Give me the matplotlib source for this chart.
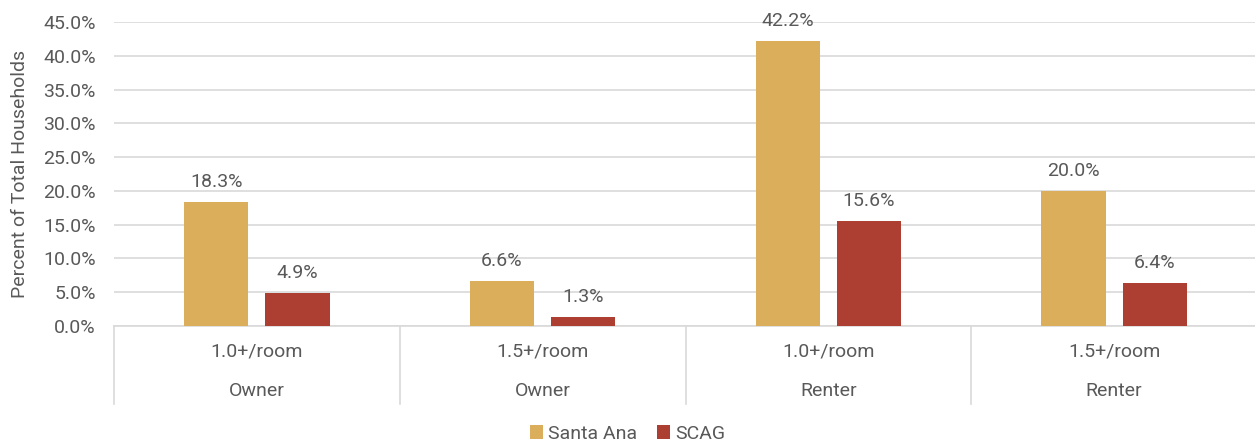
import matplotlib
matplotlib.use("Agg")
import matplotlib.pyplot as plt
import matplotlib.transforms as mtransforms
from matplotlib.patches import Patch
import numpy as np

sub_labels = ["1.0+/room", "1.5+/room", "1.0+/room", "1.5+/room"]
group_labels = ["Owner", "Owner", "Renter", "Renter"]
santa_ana = [18.3, 6.6, 42.2, 20.0]
scag = [4.9, 1.3, 15.6, 6.4]
series_names = ["Santa Ana", "SCAG"]
colors = ["#DAAE5A", "#AD3E32"]

plt.rcParams['font.family'] = ['Roboto', 'DejaVu Sans']
txt = "#595959"
fs = 14

W, H = 1255, 447
fig = plt.figure(figsize=(W / 100, H / 100), dpi=100)
left, right = 114 / W, 1257 / W
bottom, top = 1 - 326 / H, 1 - 22 / H
ax = fig.add_axes([left, bottom, right - left, top - bottom])

x = np.arange(len(sub_labels))
bw = 0.225
off = 0.142
b1 = ax.bar(x - off, santa_ana, bw, color=colors[0], zorder=3)
b2 = ax.bar(x + off, scag, bw, color=colors[1], zorder=3)
for bars, vals in ((b1, santa_ana), (b2, scag)):
    for r, v in zip(bars, vals):
        ax.annotate(f"{v:.1f}%", (r.get_x() + r.get_width() / 2, v),
                    xytext=(0, 8), textcoords="offset points",
                    ha="center", va="bottom", fontsize=fs, color=txt)

ax.set_xlim(-0.5, 3.5)
ax.set_ylim(0, 45)
ax.set_yticks(np.arange(0, 46, 5))
ax.set_yticklabels([f"{t:.1f}%" for t in np.arange(0, 46, 5)], fontsize=fs, color=txt)
ax.tick_params(axis="y", length=0, pad=13)
ax.grid(axis="y", color="#D9D9D9", linewidth=1.2, zorder=0)
ax.set_xticks([])
for s in ["top", "right", "left"]:
    ax.spines[s].set_visible(False)
ax.spines["bottom"].set_color("#D9D9D9")
ax.spines["bottom"].set_linewidth(1.2)
ax.set_ylabel("Percent of Total Households", fontsize=fs, color=txt, labelpad=10)

trans = mtransforms.blended_transform_factory(ax.transData, ax.transAxes)
axh = 326 - 22
for xs in np.arange(-0.5, 3.0, 1.0):
    ax.plot([xs, xs], [0, -78 / axh], transform=trans, color="#D9D9D9",
            linewidth=1.2, clip_on=False)
for xi, sl, gl in zip(x, sub_labels, group_labels):
    ax.text(xi, -26 / axh, sl, transform=trans, ha="center", va="center",
            fontsize=fs, color=txt)
    ax.text(xi, -65 / axh, gl, transform=trans, ha="center", va="center",
            fontsize=fs, color=txt)

handles = [Patch(facecolor=c, label=n) for c, n in zip(colors, series_names)]
fig.legend(handles=handles, loc="center", bbox_to_anchor=(0.5, 1 - 434 / H),
           ncol=2, frameon=False, fontsize=fs, labelcolor=txt,
           handlelength=0.7, handleheight=0.7, handletextpad=0.25, columnspacing=1.0)

fig.savefig("out.png", dpi=100)
